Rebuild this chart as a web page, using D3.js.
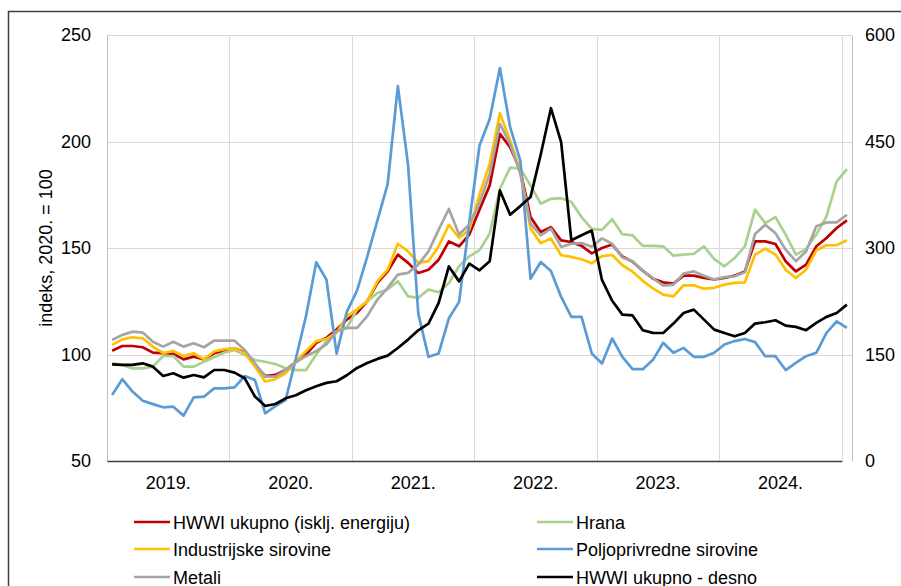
<!DOCTYPE html>
<html>
<head>
<meta charset="utf-8">
<script src="https://cdn.jsdelivr.net/npm/d3@7"></script>
<style>
  body { margin: 0; background: #fff; }
  svg { display: block; font-family: "Liberation Sans", Arial, sans-serif; }
</style>
</head>
<body>
<div id="chart"></div>
<script>
// Mjesečni podaci, siječanj 2019. - siječanj 2025.
const years = ['2019.', '2020.', '2021.', '2022.', '2023.', '2024.'];
const monthCount = 73;

const hwwiExEnergy = [
  101.8, 104.0, 104.0, 103.4, 100.9, 100.6, 100.3, 97.7, 99.0, 97.7, 100.6, 101.8,
  102.9, 100.9, 95.1, 89.9, 90.4, 92.7, 96.5, 100.0, 105.5, 107.8, 111.7, 116.4,
  119.5, 125.0, 133.6, 139.0, 146.9, 143.0, 138.3, 139.8, 144.5, 153.1, 150.8, 156.3,
  168.0, 179.4, 203.6, 197.3, 186.4, 164.5, 157.5, 159.8, 153.6, 152.8, 151.0, 147.5,
  150.0, 151.6, 146.0, 143.6, 139.3, 135.6, 133.9, 133.3, 137.0, 137.0, 135.9, 135.2,
  135.9, 137.0, 139.0, 153.1, 153.1, 151.9, 143.8, 139.0, 142.2, 150.8, 154.7, 159.4,
  163.0
];
const hrana = [
  95.9, 95.1, 93.5, 93.5, 94.3, 99.3, 99.3, 94.3, 94.3, 96.6, 98.7, 100.9,
  102.1, 99.8, 97.4, 96.6, 95.5, 93.5, 92.7, 92.7, 100.0, 106.3, 110.9, 112.5,
  121.1, 125.0, 128.9, 130.5, 134.4, 127.3, 126.6, 130.5, 129.2, 133.6, 141.4, 146.1,
  149.0, 156.7, 177.8, 187.7, 187.2, 179.4, 170.8, 173.1, 173.4, 171.6, 164.5, 159.0,
  158.5, 163.5, 156.5, 155.9, 151.0, 151.0, 150.8, 146.4, 146.9, 147.3, 150.8, 144.8,
  141.4, 145.3, 150.8, 168.0, 161.7, 164.5, 156.3, 146.9, 149.5, 156.3, 164.8, 181.3,
  187.0
];
const industrijske = [
  104.5, 107.1, 108.1, 107.6, 103.7, 100.6, 101.7, 99.3, 100.6, 97.7, 101.4, 102.5,
  102.9, 100.6, 94.3, 87.3, 88.4, 91.2, 96.8, 101.6, 106.3, 107.3, 110.2, 118.0,
  121.1, 125.0, 134.4, 139.8, 152.0, 148.4, 143.0, 143.8, 150.8, 160.9, 154.7, 158.6,
  175.0, 189.5, 213.3, 200.5, 186.4, 159.1, 152.3, 154.4, 146.6, 145.8, 144.7, 142.8,
  146.2, 146.7, 141.9, 138.9, 134.6, 131.0, 128.1, 127.3, 132.5, 132.5, 130.9, 131.3,
  132.8, 133.6, 133.9, 146.9, 149.7, 146.9, 139.8, 135.9, 139.8, 148.9, 151.3, 151.3,
  153.6
];
const poljoprivredne = [
  81.0, 88.4, 82.6, 78.3, 76.7, 75.2, 75.5, 71.3, 79.9, 80.2, 84.1, 84.1,
  84.6, 89.9, 88.0, 72.4, 75.8, 78.6, 98.0, 118.0, 143.3, 135.2, 100.4, 120.0,
  130.0, 146.0, 163.0, 180.0, 226.0, 189.0, 119.2, 98.9, 100.5, 117.0, 124.7, 162.0,
  198.1, 210.6, 234.5, 206.7, 191.0, 135.6, 143.4, 139.2, 127.0, 117.7, 117.7, 100.5,
  95.8, 107.5, 98.9, 93.1, 93.1, 97.5, 105.5, 100.8, 103.1, 98.9, 98.9, 100.8,
  104.7, 106.3, 107.3, 105.8, 99.2, 99.2, 92.7, 96.1, 99.2, 100.8, 110.2, 115.6,
  112.5
];
const metali = [
  106.8, 109.2, 110.7, 110.3, 106.0, 103.7, 106.0, 103.7, 105.3, 103.4, 106.5, 106.5,
  106.5, 102.1, 95.9, 89.6, 89.6, 92.7, 96.3, 99.2, 101.6, 104.7, 110.9, 112.5,
  112.5, 118.0, 125.8, 131.3, 137.5, 138.3, 142.2, 148.4, 158.6, 168.3, 156.3, 161.0,
  171.0, 184.8, 208.3, 198.9, 184.8, 161.4, 155.9, 159.1, 150.5, 152.0, 152.3, 150.6,
  154.5, 152.0, 145.5, 143.8, 139.2, 135.8, 132.3, 132.8, 138.0, 139.0, 137.0, 135.2,
  136.3, 136.7, 138.6, 156.6, 160.9, 157.0, 149.2, 143.8, 148.4, 160.2, 162.0, 162.0,
  165.6
];
// desna os
const hwwiUkupno = [
  136.2, 135.3, 135.3, 137.6, 132.9, 119.7, 123.5, 117.4, 121.1, 117.8, 128.2, 128.2,
  124.4, 116.5, 90.7, 77.5, 80.3, 88.3, 92.5, 99.7, 105.3, 110.0, 112.3, 120.8,
  131.1, 138.1, 143.8, 148.4, 159.2, 171.0, 184.1, 193.5, 222.6, 274.1, 253.0, 277.9,
  268.5, 281.3, 381.1, 346.9, 359.0, 371.7, 431.7, 496.9, 449.0, 310.8, 318.0, 324.5,
  255.0, 225.7, 206.2, 205.0, 184.2, 180.4, 180.3, 193.5, 208.5, 213.2, 199.1, 185.0,
  180.3, 175.6, 180.3, 193.5, 195.4, 198.2, 190.7, 188.9, 184.2, 194.6, 203.0, 208.5,
  220.3
];

const leftTicks = [50, 100, 150, 200, 250];
const rightTicks = [0, 150, 300, 450, 600];

const series = [
  { name: 'HWWI ukupno (isklj. energiju)', values: hwwiExEnergy, color: '#C00000', axis: 'left' },
  { name: 'Hrana', values: hrana, color: '#A9D18E', axis: 'left' },
  { name: 'Industrijske sirovine', values: industrijske, color: '#FFC000', axis: 'left' },
  { name: 'Poljoprivredne sirovine', values: poljoprivredne, color: '#5B9BD5', axis: 'left' },
  { name: 'Metali', values: metali, color: '#A5A5A5', axis: 'left' },
  { name: 'HWWI ukupno - desno', values: hwwiUkupno, color: '#000000', axis: 'right' }
];

const W = 901, H = 586;
const plot = { left: 107, right: 852, top: 35, bottom: 461 };

const svg = d3.select('#chart').append('svg')
  .attr('width', W)
  .attr('height', H);

svg.append('rect').attr('width', W).attr('height', H).attr('fill', '#fff');

// okvir grafikona (odrezan desno i dolje)
svg.append('path')
  .attr('d', `M8.5,${H + 5}V11.5H${W + 5}`)
  .attr('fill', 'none')
  .attr('stroke', '#404040')
  .attr('stroke-width', 1.5);

const x = d3.scaleLinear().domain([0, monthCount]).range([plot.left, plot.right]);
const yL = d3.scaleLinear().domain([50, 250]).range([plot.bottom, plot.top]);
const yR = d3.scaleLinear().domain([0, 600]).range([plot.bottom, plot.top]);
const xYear = d3.scaleBand().domain(years).range([x(0), x(72)]);

// horizontalna mreža
svg.append('g')
  .selectAll('line')
  .data(leftTicks.slice(1))
  .join('line')
  .attr('x1', plot.left).attr('x2', plot.right)
  .attr('y1', d => Math.round(yL(d)) + 0.5).attr('y2', d => Math.round(yL(d)) + 0.5)
  .attr('stroke', '#D9D9D9');

// vertikalna mreža na granicama godina
svg.append('g')
  .selectAll('line')
  .data(d3.range(12, monthCount, 12))
  .join('line')
  .attr('x1', d => Math.round(x(d)) + 0.5).attr('x2', d => Math.round(x(d)) + 0.5)
  .attr('y1', plot.top).attr('y2', plot.bottom)
  .attr('stroke', '#D9D9D9');

// osi
const fontSize = '18px';
const gL = svg.append('g')
  .attr('transform', `translate(${plot.left},0)`)
  .call(d3.axisLeft(yL).tickValues(leftTicks).tickSize(0).tickPadding(16));
const gR = svg.append('g')
  .attr('transform', `translate(${plot.right},0)`)
  .call(d3.axisRight(yR).tickValues(rightTicks).tickSize(0).tickPadding(13));
const gX = svg.append('g')
  .attr('transform', `translate(0,${plot.bottom})`)
  .call(d3.axisBottom(xYear).tickSize(0).tickPadding(15));

[gL, gR, gX].forEach(g => {
  g.selectAll('text').style('font-size', fontSize).attr('fill', '#000');
  g.select('.domain').attr('stroke', '#BFBFBF');
});
gX.select('.domain').attr('stroke', '#404040').attr('stroke-width', 1.5);

svg.append('text')
  .attr('transform', `translate(52,${(plot.top + plot.bottom) / 2}) rotate(-90)`)
  .attr('text-anchor', 'middle')
  .style('font-size', fontSize)
  .text('indeks, 2020. = 100');

// linije
const lineGroup = svg.append('g');
series.forEach(s => {
  const yScale = s.axis === 'left' ? yL : yR;
  const line = d3.line()
    .x((d, i) => x(i + 0.5))
    .y(d => yScale(d));
  lineGroup.append('path')
    .datum(s.values)
    .attr('fill', 'none')
    .attr('stroke', s.color)
    .attr('stroke-width', 2.7)
    .attr('stroke-linejoin', 'round')
    .attr('d', line);
});

// legenda
const legendCols = [134, 537];
const legendRows = [522, 549, 577];
const legend = svg.append('g');
series.forEach((s, i) => {
  const lx = legendCols[i % 2];
  const ly = legendRows[Math.floor(i / 2)];
  legend.append('line')
    .attr('x1', lx).attr('x2', lx + 36)
    .attr('y1', ly).attr('y2', ly)
    .attr('stroke', s.color)
    .attr('stroke-width', 2.7);
  legend.append('text')
    .attr('x', lx + 39)
    .attr('y', ly + 1)
    .attr('dy', '0.35em')
    .style('font-size', fontSize)
    .text(s.name);
});
</script>
</body>
</html>
